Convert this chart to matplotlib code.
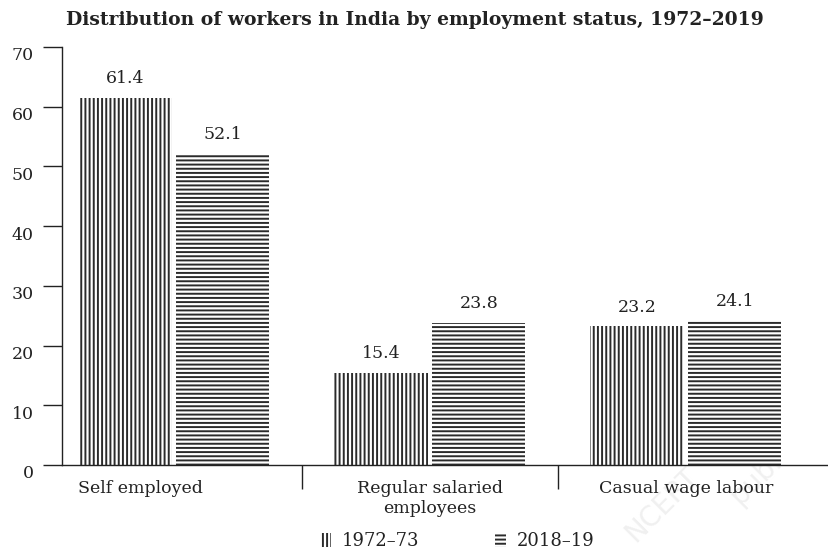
import matplotlib
matplotlib.use("Agg")
import matplotlib.pyplot as plt
import matplotlib.transforms as mtransforms
from matplotlib.patches import Patch
import numpy as np

categories = ["Self employed", "Regular salaried\nemployees", "Casual wage labour"]
series_names = ["1972\u201373", "2018\u201319"]
values_1972 = [61.4, 15.4, 23.2]
values_2018 = [52.1, 23.8, 24.1]
yticks = [0, 10, 20, 30, 40, 50, 60, 70]

plt.rcParams["font.family"] = ["DejaVu Serif"]
plt.rcParams["hatch.linewidth"] = 1.4

W, H = 829, 554
fig = plt.figure(figsize=(W / 100, H / 100), dpi=100)
ax = fig.add_axes([62 / W, 1 - 465 / H, (W - 62) / W, (465 - 47) / H])

ink = "#2b2b2b"
txt = "#222222"
x = np.arange(len(categories))
bw = 0.365
gap = 0.008
b1 = ax.bar(x - bw / 2 - gap, values_1972, width=bw, facecolor="white",
            edgecolor=ink, linewidth=0, hatch="||||")
b2 = ax.bar(x + bw / 2 + gap, values_2018, width=bw, facecolor="white",
            edgecolor=ink, linewidth=0, hatch="----")

for bars, vals in ((b1, values_1972), (b2, values_2018)):
    for r, v in zip(bars, vals):
        ax.annotate(f"{v:.1f}", (r.get_x() + r.get_width() / 2, r.get_height()),
                    xytext=(0, 14), textcoords="offset points",
                    ha="center", va="center", fontsize=12.5, color=txt)

ax.set_xlim(-0.4375, 2.559)
ax.set_ylim(0, 70)
ax.set_yticks(yticks)
ax.tick_params(axis="y", length=13.5, width=1, pad=7, labelsize=12.5,
               colors=txt)
# tick labels sit slightly below their ticks in the reference
for lbl in ax.get_yticklabels():
    lbl.set_transform(lbl.get_transform() +
                      mtransforms.ScaledTranslation(0, -7 / 100, fig.dpi_scale_trans))

ax.set_xticks(x)
ax.set_xticklabels(categories, fontsize=12.5, color=txt,
                   linespacing=1.2)
ax.tick_params(axis="x", which="major", length=0, pad=11)
ax.set_xticks([0.5, 1.5], minor=True)
ax.tick_params(axis="x", which="minor", length=17, width=1, color=txt,
               direction="out")

# shift the first category label to the left, as in the reference
lbl0 = ax.get_xticklabels()[0]
lbl0.set_transform(lbl0.get_transform() +
                   mtransforms.ScaledTranslation(-34 / 100, 0, fig.dpi_scale_trans))

for s in ("top", "right"):
    ax.spines[s].set_visible(False)
for s in ("left", "bottom"):
    ax.spines[s].set_color(txt)
    ax.spines[s].set_linewidth(1)

fig.text(0.5, 1 - 20 / H, "Distribution of workers in India by employment status, 1972\u20132019",
         ha="center", va="center", fontsize=13.5, fontweight="bold", color=txt)

handles = [Patch(facecolor="white", edgecolor=ink, linewidth=0, hatch="||||"),
           Patch(facecolor="white", edgecolor=ink, linewidth=0, hatch="----")]
fig.legend(handles, series_names, loc="center", bbox_to_anchor=(457 / W, 1 - 541 / H),
           ncol=2, frameon=False, fontsize=13, handlelength=0.6, handleheight=0.8,
           handletextpad=0.6, columnspacing=4.2, labelcolor=txt,
           borderpad=0, borderaxespad=0)

# very faint watermark
fig.text(662 / W, 1 - 505 / H, "NCERT", rotation=45, fontsize=20, color="#f0f0f0",
         ha="center", va="center", zorder=-5, family="DejaVu Sans")
fig.text(770 / W, 1 - 465 / H, "publish", rotation=45, fontsize=20, color="#f0f0f0",
         ha="center", va="center", zorder=-5, family="DejaVu Sans")

fig.savefig("out.png", dpi=100)
